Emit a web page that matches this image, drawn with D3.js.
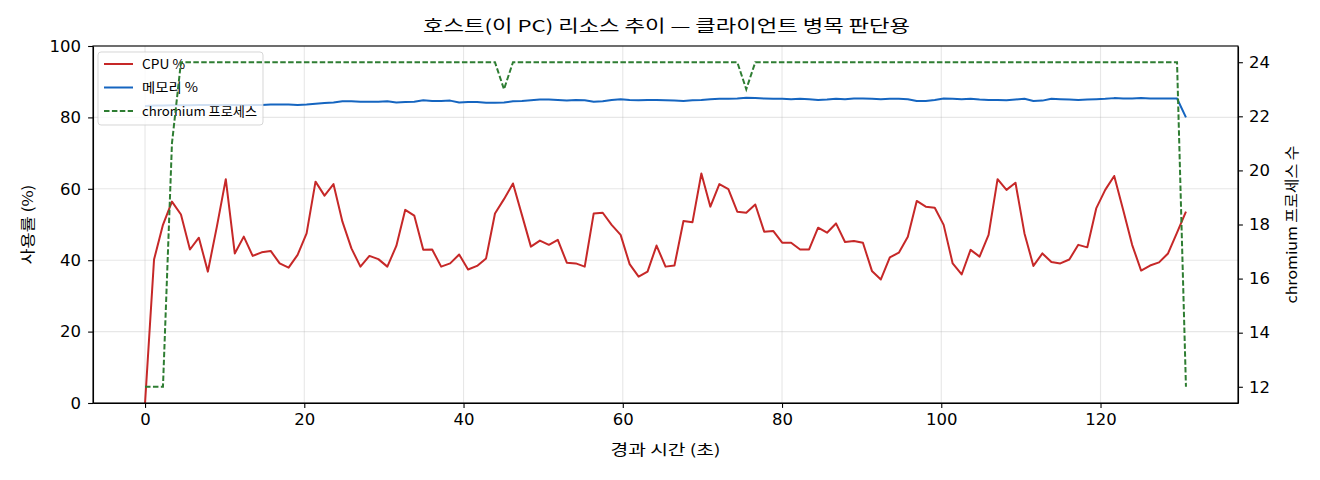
<!DOCTYPE html>
<html><head><meta charset="utf-8">
<script src="https://cdn.jsdelivr.net/npm/d3@7/dist/d3.min.js"></script>
<style>
html,body{margin:0;padding:0;background:#fff;}
svg{display:block;font-family:"Noto Sans CJK KR","Noto Sans",sans-serif;}
</style></head>
<body>
<svg id="chart" width="1320" height="480"></svg>
<script>
const title = "호스트(이 PC) 리소스 추이 — 클라이언트 병목 판단용";
const xLabel = "경과 시간 (초)";
const yLabelLeft = "사용률 (%)";
const yLabelRight = "chromium 프로세스 수";
const seriesNames = ["CPU %", "메모리 %", "chromium 프로세스"];

const times = [0,1.13,2.25,3.38,4.51,5.64,6.76,7.89,9.02,10.14,11.27,12.40,13.52,14.65,15.78,16.91,18.03,19.16,20.29,21.41,
22.54,23.67,24.79,25.92,27.05,28.18,29.30,30.43,31.56,32.68,33.81,34.94,36.06,37.19,38.32,39.45,40.57,41.70,42.83,43.95,
45.08,46.21,47.33,48.46,49.59,50.72,51.84,52.97,54.10,55.22,56.35,57.48,58.60,59.73,60.86,61.99,63.11,64.24,65.37,66.49,
67.62,68.75,69.87,71.00,72.13,73.26,74.38,75.51,76.64,77.76,78.89,80.02,81.14,82.27,83.40,84.53,85.65,86.78,87.91,89.03,
90.16,91.29,92.41,93.54,94.67,95.80,96.92,98.05,99.18,100.30,101.43,102.56,103.68,104.81,105.94,107.07,108.19,109.32,110.45,111.57,
112.70,113.83,114.95,116.08,117.21,118.34,119.46,120.59,121.72,122.84,123.97,125.10,126.22,127.35,128.48,129.61,130.73];

const cpu = [0,40.2,49.9,56.4,52.8,43.0,46.3,36.8,49.4,62.7,41.9,46.6,41.2,42.2,42.6,39.1,37.9,41.5,47.5,62.0,
58.1,61.3,50.8,43.3,38.2,41.2,40.3,38.2,44.0,54.1,52.5,42.9,43.0,38.2,39.1,41.6,37.4,38.4,40.5,53.1,
57.1,61.5,52.7,43.8,45.5,44.3,45.7,39.3,39.1,38.2,53.1,53.3,49.9,47.1,38.9,35.4,36.8,44.1,38.2,38.5,
51.0,50.6,64.3,55.0,61.3,59.9,53.6,53.3,55.6,48.0,48.2,44.9,44.9,43.0,43.0,49.1,47.7,50.3,45.1,45.4,
44.9,37.0,34.6,40.8,42.1,46.6,56.6,55.0,54.7,49.9,39.1,36.0,42.9,41.0,47.1,62.7,59.7,61.7,47.5,38.4,
41.9,39.5,39.1,40.2,44.3,43.6,54.5,59.7,63.6,54.1,44.3,37.1,38.5,39.4,41.9,47.7,53.6];

const memory = [83.2,83.3,83.3,83.4,83.4,83.4,83.5,83.5,83.4,83.5,83.5,83.4,83.5,83.5,83.6,83.6,83.6,83.5,83.6,83.8,
84.0,84.2,84.5,84.5,84.4,84.4,84.4,84.5,84.2,84.3,84.4,84.8,84.6,84.6,84.7,84.2,84.3,84.3,84.1,84.1,
84.2,84.5,84.6,84.8,85.0,85.0,84.9,84.7,84.9,84.8,84.4,84.5,84.9,85.1,84.9,84.8,84.9,84.9,84.8,84.7,
84.6,84.8,84.9,85.1,85.2,85.2,85.3,85.5,85.4,85.3,85.2,85.2,85.1,85.2,85.1,84.9,85.0,85.2,85.1,85.3,
85.3,85.2,85.1,85.2,85.2,85.1,84.6,84.6,84.9,85.3,85.2,85.1,85.2,85.0,84.9,84.9,84.8,85.0,85.2,84.6,
84.7,85.2,85.1,85.0,84.9,85.0,85.1,85.2,85.4,85.3,85.3,85.4,85.3,85.3,85.3,85.3,80.0];

const procs = [12,12,12,21,24,24,24,24,24,24,24,24,24,24,24,24,24,24,24,24,
24,24,24,24,24,24,24,24,24,24,24,24,24,24,24,24,24,24,24,24,
23,24,24,24,24,24,24,24,24,24,24,24,24,24,24,24,24,24,24,24,
24,24,24,24,24,24,24,23,24,24,24,24,24,24,24,24,24,24,24,24,
24,24,24,24,24,24,24,24,24,24,24,24,24,24,24,24,24,24,24,24,
24,24,24,24,24,24,24,24,24,24,24,24,24,24,24,24,12];

const xTicks = [0,20,40,60,80,100,120];
const yTicksLeft = [0,20,40,60,80,100];
const yTicksRight = [12,14,16,18,20,22,24];

const colors = {cpu:"#c62828", mem:"#1565c0", proc:"#2e7d32"};

const W = 1320, H = 480;
const m = {l:93, r:82, t:46, b:77};
const iw = W - m.l - m.r, ih = H - m.t - m.b;

const svg = d3.select("#chart");
const g = svg.append("g").attr("transform", `translate(${m.l},${m.t})`);

const xMin = d3.min(times), xMax = d3.max(times);
const xPad = (xMax - xMin) * 0.05;
const x = d3.scaleLinear().domain([xMin - xPad, xMax + xPad]).range([0, iw]);
const yL = d3.scaleLinear().domain([0, 100]).range([ih, 0]);
const pMin = d3.min(procs), pMax = d3.max(procs), pPad = (pMax - pMin) * 0.05;
const yR = d3.scaleLinear().domain([pMin - pPad, pMax + pPad]).range([ih, 0]);

// grid
g.append("g").selectAll("line").data(xTicks).join("line")
  .attr("x1", d => x(d)).attr("x2", d => x(d)).attr("y1", 0).attr("y2", ih)
  .attr("stroke", "#b0b0b0").attr("stroke-opacity", 0.3).attr("stroke-width", 1.1);
g.append("g").selectAll("line").data(yTicksLeft).join("line")
  .attr("x1", 0).attr("x2", iw).attr("y1", d => yL(d)).attr("y2", d => yL(d))
  .attr("stroke", "#b0b0b0").attr("stroke-opacity", 0.3).attr("stroke-width", 1.1);

const idx = d3.range(times.length);
const lineL = arr => d3.line().x(i => x(times[i])).y(i => yL(arr[i]))(idx);
const lineR = arr => d3.line().x(i => x(times[i])).y(i => yR(arr[i]))(idx);

g.append("path").attr("d", lineL(cpu)).attr("fill","none").attr("stroke", colors.cpu)
  .attr("stroke-width", 2.0).attr("stroke-linejoin","round");
g.append("path").attr("d", lineL(memory)).attr("fill","none").attr("stroke", colors.mem)
  .attr("stroke-width", 2.0).attr("stroke-linejoin","round");

const stretch = (sel, len) => sel.attr("textLength", len).attr("lengthAdjust", "spacingAndGlyphs");

// legend (on primary axes, beneath the twin axes line)
const leg = g.append("g").attr("transform", "translate(5,6)");
leg.append("rect").attr("width", 165).attr("height", 73).attr("rx", 3).attr("ry", 3)
  .attr("fill", "#fff").attr("fill-opacity", 0.8).attr("stroke", "#cccccc").attr("stroke-opacity", 0.8).attr("stroke-width", 1);
const legItems = [
  {name: seriesNames[0], color: colors.cpu, dash: null, len: 43},
  {name: seriesNames[1], color: colors.mem, dash: null, len: 56},
  {name: seriesNames[2], color: colors.proc, dash: "5.5,2.4", len: 115}
];
legItems.forEach((d, i) => {
  const yy = 12 + i * 23.5;
  leg.append("line").attr("x1", 6).attr("x2", 35).attr("y1", yy).attr("y2", yy)
    .attr("stroke", d.color).attr("stroke-width", 2.0).attr("stroke-dasharray", d.dash);
  leg.append("text").attr("x", 44).attr("y", yy).attr("dy", "0.36em")
    .attr("font-size", "13px").attr("fill", "#000").text(d.name).call(stretch, d.len);
});

g.append("path").attr("d", lineR(procs)).attr("fill","none").attr("stroke", colors.proc)
  .attr("stroke-width", 2.0).attr("stroke-dasharray", "5.5,2.4");

// axes
const axStyle = sel => {
  sel.selectAll("path").attr("stroke", "#000").attr("stroke-width", 1.1);
  sel.selectAll("line").attr("stroke", "#000").attr("stroke-width", 1.1);
  sel.selectAll("text").attr("font-size", "16.5px").attr("fill", "#000")
    .attr("font-family", '"DejaVu Sans","Noto Sans",sans-serif');
};
g.append("g").attr("transform", `translate(0,${ih})`)
  .call(d3.axisBottom(x).tickValues(xTicks).tickSize(4.9).tickPadding(5).tickSizeOuter(0))
  .call(axStyle);
g.append("g")
  .call(d3.axisLeft(yL).tickValues(yTicksLeft).tickSize(4.9).tickPadding(7).tickSizeOuter(0))
  .call(axStyle);
g.append("g").attr("transform", `translate(${iw},0)`)
  .call(d3.axisRight(yR).tickValues(yTicksRight).tickSize(4.9).tickPadding(6).tickSizeOuter(0))
  .call(axStyle);
// frame
g.append("rect").attr("width", iw).attr("height", ih).attr("fill","none").attr("stroke","#000").attr("stroke-width",1.1);

// labels
svg.append("text").attr("x", 423).attr("y", 26).attr("dy","0.36em")
  .attr("font-size","16.5px").attr("fill","#000").text(title).call(stretch, 487);
svg.append("text").attr("x", m.l + iw/2).attr("y", 450).attr("text-anchor","middle").attr("dy","0.36em")
  .attr("font-size","14.5px").attr("fill","#000").text(xLabel).call(stretch, 110);
svg.append("text").attr("transform", `translate(28,${m.t + ih/2}) rotate(-90)`).attr("text-anchor","middle").attr("dy","0.36em")
  .attr("font-size","14.5px").attr("fill","#000").text(yLabelLeft).call(stretch, 80);
svg.append("text").attr("transform", `translate(1292,${m.t + ih/2}) rotate(-90)`).attr("text-anchor","middle").attr("dy","0.36em")
  .attr("font-size","14.5px").attr("fill","#000").text(yLabelRight).call(stretch, 158);
</script>
</body></html>
